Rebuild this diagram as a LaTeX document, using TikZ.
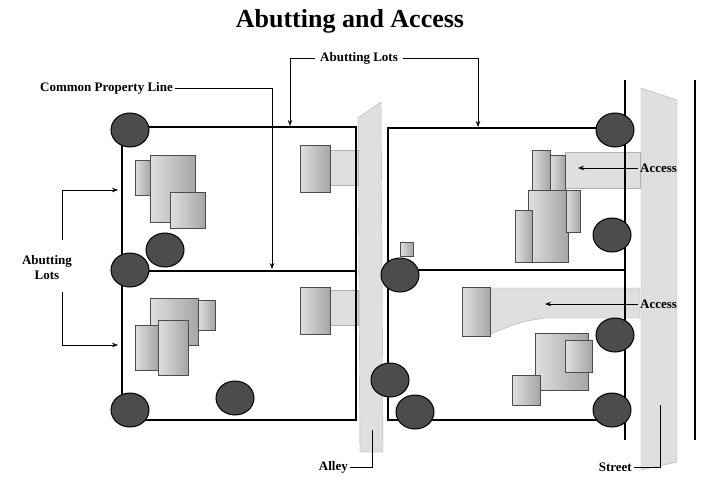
\documentclass[tikz,border=0pt]{standalone}
\usepackage{fontspec}
\setmainfont{Liberation Serif}
\usetikzlibrary{arrows.meta}
\tikzset{
  lot/.style={line width=2pt},
  pave/.style={fill=gray!25,draw=gray!60},
  roof/.style={draw=black!70,left color=gray!25,right color=gray!70},
  tree/.style={fill=black!70,draw=black,line width=1pt},
  lead/.style={line width=0.7pt,-{Stealth[length=6pt]}},
  tag/.style={font=\bfseries\fontsize{13}{15}\selectfont,inner sep=2pt}
}
\begin{document}
\begin{tikzpicture}[x=1pt,y=-1pt]
\useasboundingbox (0,0) rectangle (720,495);
\fill[white] (0,0) rectangle (720,495);
\node[font=\bfseries\fontsize{26}{30}\selectfont] (title) at (350,21) {Abutting and Access};
% alley and street
\draw[pave] (358,118) -- (381,102) -- (383,452) -- (360,452) -- cycle;
\draw[pave] (641,88) -- (677,100) -- (677,462) -- (641,470) -- cycle;
\draw[line width=1.5pt] (625,80) -- (625,440);
\draw[line width=1.5pt] (695,80) -- (695,440);
% driveways
\draw[pave] (330,150) rectangle (358,185);
\draw[pave] (330,290) rectangle (358,325);
\draw[pave] (565,152) -- (640,152) -- (640,188) -- (565,188) -- cycle;
\draw[pave] (488,288) -- (640,288) -- (640,318) -- (545,318) .. controls (520,322) .. (488,335) -- cycle;
% lots
\draw[lot] (122,127) rectangle (356,420);
\draw[lot] (122,271) -- (356,271);
\draw[lot] (388,128) rectangle (625,420);
\draw[lot] (388,270) -- (625,270);
% garages
\draw[roof] (300,145) rectangle (330,192);
\draw[roof] (300,287) rectangle (330,334);
\draw[roof] (462,287) rectangle (490,336);
% houses
\draw[roof] (150,155) rectangle (195,222);
\draw[roof] (135,160) rectangle (150,195);
\draw[roof] (170,192) rectangle (205,228);
\draw[roof] (150,298) rectangle (198,345);
\draw[roof] (198,300) rectangle (215,330);
\draw[roof] (135,325) rectangle (158,370);
\draw[roof] (158,320) rectangle (188,375);
\draw[roof] (532,150) rectangle (550,190);
\draw[roof] (550,155) rectangle (565,210);
\draw[roof] (528,190) rectangle (568,262);
\draw[roof] (515,210) rectangle (532,262);
\draw[roof] (566,190) rectangle (580,232);
\draw[roof] (535,333) rectangle (588,390);
\draw[roof] (565,340) rectangle (592,372);
\draw[roof] (512,375) rectangle (540,405);
\draw[roof] (400,242) rectangle (413,256);
% trees
\foreach \tx/\ty in {130/130,165/250,130/270,130/410,235/398,400/275,390/380,415/412,615/130,612/235,615/335,612/410}
  \draw[tree] (\tx,\ty) ellipse (19 and 17);
% labels
\node[tag,anchor=west] (abut) at (318,58) {Abutting Lots};
\draw[lead] (abut.west) ++(-3,0) -- (290,58) -- (290,126);
\draw[lead] (abut.east) ++(3,0) -- (478,58) -- (478,127);
\node[tag,anchor=west] (cpl) at (38,88) {Common Property Line};
\draw[lead] (cpl.east) -- (272,88) -- (272,269);
\node[tag,align=center] (lots) at (47,268) {Abutting\\Lots};
\draw[lead] (62,240) -- (62,190) -- (118,190);
\draw[lead] (62,292) -- (62,345) -- (118,345);
\node[tag,anchor=west] (acc1) at (638,168) {Access};
\draw[lead] (acc1.west) -- (578,168);
\node[tag,anchor=west] (acc2) at (638,304) {Access};
\draw[lead] (acc2.west) -- (545,304);
\node[tag,anchor=east] (alley) at (350,467) {Alley};
\draw[line width=0.7pt] (alley.east) -- (372,467) -- (372,430);
\node[tag,anchor=east] (street) at (634,467) {Street};
\draw[line width=0.7pt] (street.east) -- (660,467) -- (660,405);
\end{tikzpicture}
\end{document}
